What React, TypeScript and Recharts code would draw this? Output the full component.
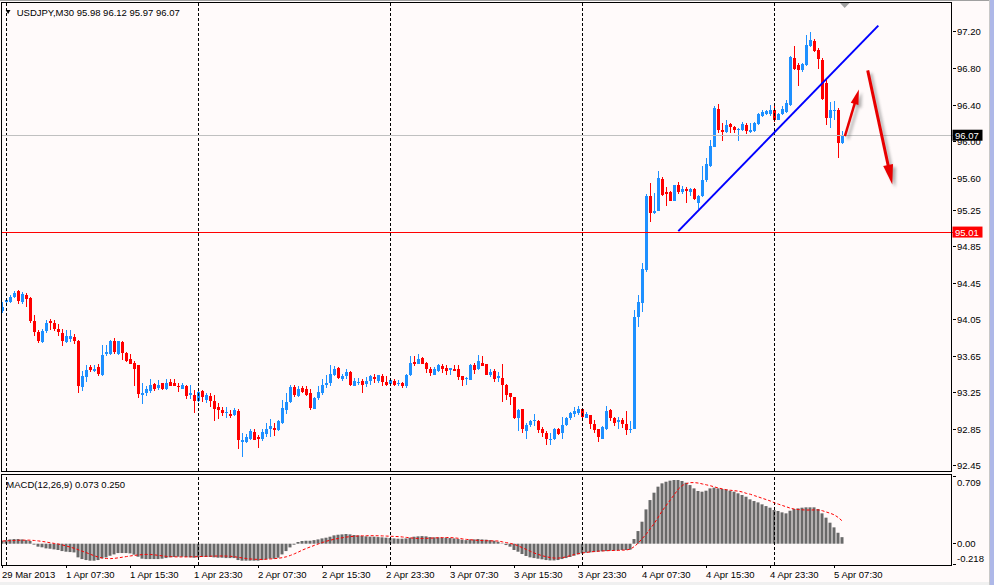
import React from "react";
import { ComposedChart, Bar, Line, XAxis, YAxis, ReferenceLine } from "recharts";

// USDJPY M30, bar 0 = 29 Mar 23:30, bar 210 = 5 Apr 08:30
const openPx = [
  94.15, 94.25, 94.25, 94.30, 94.36, 94.24, 94.32, 94.29, 94.04, 93.92,
  93.81, 93.93, 94.04, 94.02, 93.95, 93.91, 93.81, 93.84, 93.86, 93.82,
  93.31, 93.42, 93.53, 93.49, 93.53, 93.45, 93.68, 93.68, 93.82, 93.68,
  93.81, 93.69, 93.62, 93.58, 93.55, 93.23, 93.25, 93.27, 93.35, 93.30,
  93.36, 93.29, 93.37, 93.36, 93.33, 93.29, 93.32, 93.23, 93.23, 93.16,
  93.27, 93.17, 93.22, 93.16, 93.09, 93.06, 93.03, 93.02, 93.01, 93.05,
  92.71, 92.71, 92.75, 92.82, 92.77, 92.74, 92.80, 92.85, 92.87, 92.84,
  92.92, 93.06, 93.15, 93.31, 93.22, 93.30, 93.29, 93.25, 93.07, 93.19,
  93.25, 93.34, 93.36, 93.45, 93.52, 93.40, 93.43, 93.48, 93.33, 93.36,
  93.38, 93.35, 93.38, 93.42, 93.38, 93.43, 93.37, 93.35, 93.38, 93.35,
  93.36, 93.32, 93.45, 93.59, 93.57, 93.63, 93.58, 93.51, 93.45, 93.49,
  93.54, 93.52, 93.50, 93.51, 93.51, 93.43, 93.40, 93.39, 93.55, 93.51,
  93.58, 93.57, 93.45, 93.49, 93.41, 93.41, 93.34, 93.25, 93.20, 92.97,
  93.07, 92.83, 92.90, 92.94, 92.94, 92.86, 92.81, 92.74, 92.74, 92.85,
  92.81, 92.90, 92.97, 93.02, 93.03, 93.07, 92.98, 93.01, 92.91, 92.85,
  92.75, 92.86, 93.06, 92.97, 92.93, 92.95, 92.91, 92.84, 92.86, 94.08,
  94.23, 94.59, 95.40, 95.22, 95.24, 95.59, 95.45, 95.45, 95.35, 95.53,
  95.45, 95.48, 95.45, 95.48, 95.33, 95.40, 95.58, 95.73, 95.94, 96.36,
  96.13, 96.11, 96.19, 96.16, 96.13, 96.13, 96.18, 96.11, 96.12, 96.19,
  96.28, 96.30, 96.30, 96.35, 96.24, 96.30, 96.32, 96.40, 96.91, 96.84,
  96.78, 96.84, 97.05, 97.10, 97.00, 96.89, 96.64, 96.26, 96.34, 96.35,
  95.98,
];
const highPx = [
  94.24, 94.29, 94.32, 94.37, 94.38, 94.35, 94.34, 94.30, 94.10, 93.94,
  93.95, 94.05, 94.06, 94.05, 94.00, 93.95, 93.94, 93.94, 93.89, 93.83,
  93.49, 93.56, 93.56, 93.56, 93.57, 93.77, 93.77, 93.83, 93.85, 93.82,
  93.82, 93.70, 93.68, 93.60, 93.56, 93.36, 93.32, 93.40, 93.36, 93.39,
  93.36, 93.40, 93.40, 93.40, 93.36, 93.36, 93.34, 93.34, 93.28, 93.29,
  93.28, 93.25, 93.25, 93.23, 93.14, 93.10, 93.09, 93.06, 93.08, 93.07,
  92.81, 92.80, 92.86, 92.86, 92.79, 92.86, 92.92, 92.96, 92.92, 92.95,
  93.17, 93.25, 93.34, 93.34, 93.33, 93.33, 93.33, 93.29, 93.21, 93.32,
  93.40, 93.45, 93.56, 93.54, 93.53, 93.46, 93.51, 93.49, 93.41, 93.41,
  93.40, 93.42, 93.45, 93.46, 93.45, 93.46, 93.43, 93.41, 93.40, 93.39,
  93.37, 93.46, 93.65, 93.65, 93.68, 93.64, 93.59, 93.53, 93.53, 93.57,
  93.57, 93.56, 93.52, 93.56, 93.56, 93.44, 93.42, 93.57, 93.58, 93.66,
  93.65, 93.57, 93.51, 93.51, 93.48, 93.57, 93.35, 93.25, 93.21, 93.07,
  93.07, 92.92, 92.95, 93.02, 92.95, 92.88, 92.83, 92.81, 92.87, 92.87,
  92.99, 92.99, 93.04, 93.10, 93.11, 93.08, 93.04, 93.01, 92.95, 92.86,
  92.89, 93.11, 93.07, 92.99, 92.99, 92.97, 93.05, 92.94, 94.16, 94.32,
  94.67, 95.43, 95.55, 95.44, 95.68, 95.61, 95.50, 95.46, 95.53, 95.56,
  95.51, 95.50, 95.49, 95.49, 95.42, 95.73, 95.82, 96.02, 96.39, 96.41,
  96.20, 96.24, 96.20, 96.17, 96.15, 96.22, 96.20, 96.20, 96.22, 96.31,
  96.35, 96.35, 96.40, 96.39, 96.31, 96.39, 96.45, 96.94, 97.05, 96.86,
  96.86, 97.17, 97.20, 97.12, 97.02, 96.91, 96.69, 96.43, 96.44, 96.37,
  96.12,
];
const lowPx = [
  94.12, 94.23, 94.23, 94.29, 94.22, 94.22, 94.19, 94.02, 93.87, 93.80,
  93.80, 93.90, 93.94, 93.93, 93.87, 93.76, 93.80, 93.81, 93.78, 93.25,
  93.27, 93.37, 93.48, 93.48, 93.44, 93.44, 93.65, 93.66, 93.68, 93.66,
  93.61, 93.59, 93.57, 93.33, 93.19, 93.13, 93.22, 93.25, 93.27, 93.28,
  93.28, 93.28, 93.32, 93.32, 93.26, 93.29, 93.18, 93.18, 93.03, 93.15,
  93.15, 93.14, 93.09, 92.94, 92.96, 93.00, 92.98, 92.98, 93.00, 92.64,
  92.55, 92.70, 92.73, 92.73, 92.65, 92.72, 92.77, 92.77, 92.78, 92.83,
  92.91, 93.02, 93.14, 93.21, 93.20, 93.25, 93.22, 93.06, 93.07, 93.17,
  93.23, 93.30, 93.32, 93.44, 93.40, 93.38, 93.40, 93.33, 93.33, 93.34,
  93.25, 93.31, 93.34, 93.36, 93.36, 93.33, 93.33, 93.33, 93.32, 93.33,
  93.30, 93.30, 93.44, 93.54, 93.57, 93.57, 93.47, 93.44, 93.45, 93.48,
  93.47, 93.45, 93.45, 93.49, 93.39, 93.32, 93.34, 93.39, 93.46, 93.50,
  93.54, 93.45, 93.42, 93.37, 93.37, 93.15, 93.17, 93.12, 92.96, 92.83,
  92.81, 92.75, 92.88, 92.89, 92.81, 92.77, 92.68, 92.68, 92.73, 92.79,
  92.75, 92.89, 92.95, 92.99, 93.01, 92.97, 92.97, 92.86, 92.81, 92.71,
  92.75, 92.84, 92.94, 92.89, 92.86, 92.87, 92.79, 92.81, 92.85, 93.97,
  94.13, 94.57, 95.12, 95.21, 95.24, 95.40, 95.29, 95.35, 95.35, 95.43,
  95.43, 95.33, 95.41, 95.36, 95.26, 95.39, 95.56, 95.72, 95.94, 96.09,
  96.01, 96.09, 96.09, 96.09, 96.01, 96.12, 96.08, 96.09, 96.10, 96.18,
  96.27, 96.29, 96.28, 96.22, 96.24, 96.29, 96.31, 96.39, 96.78, 96.61,
  96.76, 96.83, 97.04, 96.98, 96.80, 96.46, 96.18, 96.15, 96.24, 95.82,
  95.97,
];
const closePx = [
  94.19, 94.27, 94.30, 94.34, 94.26, 94.33, 94.28, 94.04, 93.92, 93.82,
  93.93, 94.02, 94.01, 93.95, 93.92, 93.82, 93.87, 93.87, 93.82, 93.32,
  93.43, 93.50, 93.50, 93.51, 93.46, 93.67, 93.70, 93.82, 93.70, 93.82,
  93.69, 93.60, 93.57, 93.51, 93.24, 93.25, 93.29, 93.34, 93.29, 93.34,
  93.29, 93.36, 93.33, 93.33, 93.31, 93.34, 93.22, 93.25, 93.16, 93.26,
  93.21, 93.23, 93.16, 93.07, 93.06, 93.03, 93.04, 93.00, 93.06, 92.73,
  92.73, 92.77, 92.83, 92.73, 92.74, 92.82, 92.86, 92.89, 92.84, 92.94,
  93.08, 93.15, 93.31, 93.23, 93.29, 93.26, 93.23, 93.08, 93.19, 93.26,
  93.34, 93.36, 93.46, 93.51, 93.41, 93.44, 93.48, 93.34, 93.38, 93.37,
  93.34, 93.38, 93.43, 93.40, 93.45, 93.37, 93.34, 93.39, 93.34, 93.36,
  93.32, 93.45, 93.58, 93.57, 93.62, 93.57, 93.51, 93.47, 93.51, 93.56,
  93.51, 93.49, 93.52, 93.49, 93.42, 93.39, 93.41, 93.55, 93.50, 93.60,
  93.54, 93.45, 93.48, 93.40, 93.44, 93.34, 93.23, 93.20, 92.97, 93.06,
  92.85, 92.90, 92.94, 92.95, 92.84, 92.81, 92.74, 92.75, 92.86, 92.80,
  92.90, 92.97, 93.03, 93.05, 93.07, 92.99, 93.02, 92.91, 92.84, 92.77,
  92.88, 93.05, 92.98, 92.92, 92.95, 92.91, 92.84, 92.86, 94.08, 94.24,
  94.61, 95.40, 95.22, 95.24, 95.60, 95.42, 95.43, 95.35, 95.52, 95.45,
  95.48, 95.46, 95.48, 95.37, 95.40, 95.58, 95.76, 95.95, 96.37, 96.13,
  96.10, 96.18, 96.16, 96.13, 96.14, 96.19, 96.12, 96.13, 96.20, 96.30,
  96.32, 96.34, 96.35, 96.24, 96.30, 96.36, 96.42, 96.93, 96.80, 96.78,
  96.85, 97.06, 97.11, 96.99, 96.90, 96.47, 96.26, 96.35, 96.35, 95.98,
  96.07,
];

// MACD(12,26,9): main histogram and signal line
const macdMain = [
  0.033, 0.040, 0.048, 0.052, 0.052, 0.048, 0.040, 0.030, -0.010, -0.033,
  -0.040, -0.052, -0.056, -0.063, -0.070, -0.082, -0.089, -0.093, -0.097, -0.152,
  -0.171, -0.182, -0.189, -0.189, -0.182, -0.163, -0.152, -0.134, -0.119, -0.104,
  -0.104, -0.104, -0.108, -0.122, -0.145, -0.167, -0.171, -0.171, -0.171, -0.171,
  -0.167, -0.160, -0.152, -0.148, -0.145, -0.145, -0.148, -0.152, -0.156, -0.152,
  -0.148, -0.148, -0.148, -0.152, -0.156, -0.156, -0.160, -0.160, -0.160, -0.182,
  -0.189, -0.189, -0.189, -0.189, -0.189, -0.182, -0.174, -0.167, -0.167, -0.156,
  -0.119, -0.082, -0.041, -0.011, 0.019, 0.030, 0.033, 0.033, 0.040, 0.048,
  0.059, 0.067, 0.078, 0.093, 0.100, 0.104, 0.108, 0.104, 0.097, 0.093,
  0.085, 0.082, 0.078, 0.078, 0.074, 0.071, 0.067, 0.063, 0.059, 0.056,
  0.056, 0.059, 0.067, 0.078, 0.082, 0.085, 0.082, 0.074, 0.071, 0.071,
  0.067, 0.067, 0.063, 0.059, 0.052, 0.045, 0.040, 0.048, 0.048, 0.052,
  0.048, 0.045, 0.040, 0.033, 0.022, 0.004, -0.015, -0.033, -0.070, -0.089,
  -0.115, -0.137, -0.152, -0.160, -0.167, -0.174, -0.182, -0.186, -0.186, -0.182,
  -0.171, -0.160, -0.148, -0.134, -0.119, -0.108, -0.100, -0.097, -0.093, -0.089,
  -0.085, -0.082, -0.078, -0.078, -0.074, -0.070, -0.070, -0.067, 0.052, 0.141,
  0.245, 0.382, 0.486, 0.568, 0.635, 0.672, 0.690, 0.702, 0.709, 0.709,
  0.698, 0.679, 0.653, 0.616, 0.587, 0.579, 0.590, 0.616, 0.624, 0.616,
  0.609, 0.605, 0.590, 0.579, 0.561, 0.542, 0.523, 0.494, 0.475, 0.460,
  0.438, 0.419, 0.401, 0.375, 0.364, 0.349, 0.338, 0.367, 0.386, 0.393,
  0.401, 0.405, 0.405, 0.405, 0.386, 0.338, 0.290, 0.234, 0.182, 0.122,
  0.073,
];
const macdSignal = [
  0.030, 0.032, 0.034, 0.036, 0.038, 0.039, 0.040, 0.039, 0.036, 0.031,
  0.025, 0.018, 0.010, 0.003, -0.004, -0.014, -0.026, -0.039, -0.052, -0.068,
  -0.085, -0.100, -0.118, -0.135, -0.150, -0.160, -0.165, -0.166, -0.163, -0.157,
  -0.150, -0.143, -0.136, -0.130, -0.125, -0.121, -0.119, -0.120, -0.124, -0.130,
  -0.136, -0.141, -0.144, -0.146, -0.147, -0.147, -0.147, -0.146, -0.145, -0.144,
  -0.142, -0.140, -0.139, -0.138, -0.137, -0.137, -0.138, -0.140, -0.145, -0.152,
  -0.159, -0.165, -0.170, -0.173, -0.175, -0.175, -0.173, -0.170, -0.166, -0.162,
  -0.155, -0.145, -0.130, -0.112, -0.092, -0.070, -0.052, -0.035, -0.018, -0.002,
  0.014, 0.028, 0.040, 0.050, 0.059, 0.067, 0.074, 0.079, 0.083, 0.086,
  0.088, 0.089, 0.089, 0.089, 0.088, 0.087, 0.085, 0.083, 0.081, 0.079,
  0.075, 0.070, 0.065, 0.061, 0.059, 0.059, 0.060, 0.062, 0.064, 0.066,
  0.068, 0.069, 0.068, 0.065, 0.060, 0.054, 0.048, 0.044, 0.040, 0.037,
  0.035, 0.033, 0.032, 0.031, 0.030, 0.020, 0.012, 0.003, -0.008, -0.025,
  -0.045, -0.065, -0.085, -0.105, -0.120, -0.135, -0.145, -0.155, -0.160, -0.160,
  -0.155, -0.145, -0.132, -0.120, -0.110, -0.103, -0.097, -0.091, -0.087, -0.083,
  -0.080, -0.078, -0.076, -0.075, -0.074, -0.072, -0.070, -0.060, -0.030, 0.010,
  0.060, 0.110, 0.170, 0.230, 0.300, 0.370, 0.430, 0.490, 0.550, 0.610,
  0.650, 0.670, 0.680, 0.680, 0.675, 0.665, 0.655, 0.645, 0.632, 0.620,
  0.610, 0.600, 0.595, 0.590, 0.585, 0.575, 0.560, 0.550, 0.535, 0.520,
  0.505, 0.490, 0.475, 0.455, 0.440, 0.425, 0.410, 0.395, 0.385, 0.380,
  0.377, 0.375, 0.375, 0.376, 0.376, 0.367, 0.352, 0.338, 0.320, 0.290,
  0.250,
];

const timeTicks = [0, 16, 32, 48, 64, 80, 96, 112, 128, 144, 160, 176, 192, 208];
const timeLabels = [
  "29 Mar 2013", "1 Apr 07:30", "1 Apr 15:30", "1 Apr 23:30", "2 Apr 07:30",
  "2 Apr 15:30", "2 Apr 23:30", "3 Apr 07:30", "3 Apr 15:30", "3 Apr 23:30",
  "4 Apr 07:30", "4 Apr 15:30", "4 Apr 23:30", "5 Apr 07:30",
];
const priceTicks = [97.2, 96.8, 96.4, 96.0, 95.6, 95.25, 94.85, 94.45, 94.05, 93.65, 93.25, 92.85, 92.45];
const macdTicks = [0.709, 0, -0.218];
const daySeparators = [1, 49, 97, 145, 193];
const bidPrice = 96.07;
const alertPrice = 95.01;
const trendLine = [{ x: 168.95, y: 95.02 }, { x: 218.95, y: 97.27 }];
const arrowUp = [{ x: 210.6, y: 96.06 }, { x: 214.1, y: 96.57 }];
const arrowDown = [{ x: 216.3, y: 96.78 }, { x: 222.45, y: 95.53 }];

const candles = openPx.map((o, i) => ({
  idx: i,
  open: o,
  high: highPx[i],
  low: lowPx[i],
  close: closePx[i],
  range: [lowPx[i], highPx[i]],
}));
const macdRows = macdMain.map((m, i) => ({ idx: i, macd: m, signal: macdSignal[i] }));

const FONT = '"Liberation Sans", Arial, sans-serif';
const FS = 9.5;
const UP = "#1E90FF";
const DOWN = "#FF0000";
const BG = "#FFFAFA";
const X_DOMAIN: [number, number] = [-0.375, 237.625];
const PRICE_DOMAIN: [number, number] = [92.395, 97.528];
const MACD_DOMAIN: [number, number] = [-0.237, 0.776];

const Candle = (props: any) => {
  const { x, y, width, height, payload } = props;
  if (!payload || x == null || y == null) return null;
  const top = Math.min(y, y + height);
  const h = Math.abs(height);
  const { open, close, high, low } = payload;
  const color = close > open ? UP : DOWN;
  const k = high > low ? h / (high - low) : 0;
  const bodyTop = top + (high - Math.max(open, close)) * k;
  const bodyH = Math.max(1, Math.abs(close - open) * k);
  const wx = Math.floor(x + width / 2);
  return (
    <g shapeRendering="crispEdges">
      <rect x={wx} y={top} width={1} height={Math.max(1, h)} fill={color} />
      <rect x={x} y={bodyTop} width={width} height={bodyH} fill={color} />
    </g>
  );
};

const makeArrow = (id: string, head: number, half: number, thick: number) => (p: any) => {
  const { x1, y1, x2, y2 } = p;
  if ([x1, y1, x2, y2].some((v) => typeof v !== "number" || isNaN(v))) return null;
  const len = Math.hypot(x2 - x1, y2 - y1) || 1;
  const ux = (x2 - x1) / len;
  const uy = (y2 - y1) / len;
  const bx = x2 - ux * head;
  const by = y2 - uy * head;
  const nx = -uy * half;
  const ny = ux * half;
  const pts = `${x2},${y2} ${bx + nx},${by + ny} ${bx - nx},${by - ny}`;
  return (
    <g>
      <defs>
        <filter id={id} x="-50%" y="-50%" width="200%" height="200%">
          <feGaussianBlur stdDeviation="1.6" />
        </filter>
      </defs>
      <g transform="translate(3,3)" filter={`url(#${id})`} opacity={0.45}>
        <line x1={x1} y1={y1} x2={bx} y2={by} stroke="#555" strokeWidth={thick} />
        <polygon points={pts} fill="#555" />
      </g>
      <line x1={x1} y1={y1} x2={bx + ux} y2={by + uy} stroke="#E80000" strokeWidth={thick} />
      <polygon points={pts} fill="#E80000" />
    </g>
  );
};

const PriceTick = (props: any) => {
  const { x, y, payload } = props;
  const v = payload.value;
  if (v === bidPrice || v === alertPrice) {
    return (
      <g>
        <rect x={x - 0.5} y={y - 5.5} width={30} height={11} fill={v === bidPrice ? "#000" : "#FF0000"} />
        <text x={x + 2} y={y + 3.5} fill="#fff" fontFamily={FONT} fontSize={FS}>
          {v.toFixed(2)}
        </text>
      </g>
    );
  }
  return (
    <g>
      <line x1={x} x2={x + 3} y1={y} y2={y} stroke="#000" shapeRendering="crispEdges" />
      <text x={x + 4} y={y + 3.5} fill="#000" fontFamily={FONT} fontSize={FS}>
        {v.toFixed(2)}
      </text>
    </g>
  );
};

const MacdTick = (props: any) => {
  const { x, y, payload } = props;
  const v = payload.value;
  const dy = v > 0.5 ? 2.3 : v < 0 ? -4.6 : 0;
  const ty = v > 0.5 ? -3.3 : v < 0 ? 1.7 : 0;
  const label = v === 0 ? "0.00" : v.toFixed(3);
  return (
    <g>
      <line x1={x} x2={x + 3} y1={y + ty} y2={y + ty} stroke="#000" shapeRendering="crispEdges" />
      <text x={x + 4} y={y + dy + 3.5} fill="#000" fontFamily={FONT} fontSize={FS}>
        {label}
      </text>
    </g>
  );
};

const TimeTick = (props: any) => {
  const { x, y, payload } = props;
  const label = timeLabels[timeTicks.indexOf(payload.value)];
  return (
    <g>
      <line x1={x} x2={x} y1={y} y2={y + 3} stroke="#000" shapeRendering="crispEdges" />
      <text x={x - 0.5} y={y + 13} fill="#000" fontFamily={FONT} fontSize={FS} textAnchor="start">
        {label}
      </text>
    </g>
  );
};

const App = () => {
  return (
    <div style={{ position: "absolute", left: 0, top: 0, width: 994, height: 585, background: BG, overflow: "hidden" }}>
      <div style={{ position: "absolute", left: 0, top: 0 }}>
        <ComposedChart width={994} height={471} data={candles} margin={{ top: 2, right: 0, bottom: 0, left: 1 }}>
          <XAxis dataKey="idx" type="number" domain={X_DOMAIN} allowDataOverflow hide />
          <YAxis
            orientation="right"
            width={41}
            type="number"
            domain={PRICE_DOMAIN}
            allowDataOverflow
            ticks={[...priceTicks, bidPrice, alertPrice]}
            interval={0}
            tick={<PriceTick />}
            tickSize={0}
            tickMargin={0}
            axisLine={false}
            tickLine={false}
          />
          {daySeparators.map((d) => (
            <ReferenceLine key={`sep-${d}`} x={d} stroke="#000" strokeDasharray="3 2" />
          ))}
          <ReferenceLine y={bidPrice} stroke="#C0C0C0" shapeRendering="crispEdges" />
          <ReferenceLine y={alertPrice} stroke="#FF0000" shapeRendering="crispEdges" />
          <Bar dataKey="range" barSize={3} shape={<Candle />} isAnimationActive={false} />
          <ReferenceLine segment={trendLine} stroke="#0000FF" strokeWidth={2} />
          <ReferenceLine segment={arrowUp} shape={makeArrow("shUp", 15, 4, 2.5)} />
          <ReferenceLine segment={arrowDown} shape={makeArrow("shDown", 20, 5, 3)} />
        </ComposedChart>
      </div>
      <div style={{ position: "absolute", left: 0, top: 472 }}>
        <ComposedChart width={994} height={113} data={macdRows} margin={{ top: 2, right: 0, bottom: 0, left: 1 }}>
          <XAxis
            dataKey="idx"
            type="number"
            domain={X_DOMAIN}
            allowDataOverflow
            ticks={timeTicks}
            interval={0}
            tick={<TimeTick />}
            tickSize={0}
            tickMargin={0}
            axisLine={false}
            tickLine={false}
            height={20}
          />
          <YAxis
            orientation="right"
            width={41}
            type="number"
            domain={MACD_DOMAIN}
            allowDataOverflow
            ticks={macdTicks}
            interval={0}
            tick={<MacdTick />}
            tickSize={0}
            tickMargin={0}
            axisLine={false}
            tickLine={false}
          />
          {daySeparators.map((d) => (
            <ReferenceLine key={`msep-${d}`} x={d} stroke="#000" strokeDasharray="3 2" />
          ))}
          <Bar dataKey="macd" fill="#696969" barSize={3} isAnimationActive={false} />
          <Line
            dataKey="signal"
            type="linear"
            stroke="#FF0000"
            strokeWidth={1}
            strokeDasharray="3 2"
            dot={false}
            activeDot={false}
            isAnimationActive={false}
          />
        </ComposedChart>
      </div>
      <svg
        width={994}
        height={585}
        style={{ position: "absolute", left: 0, top: 0, pointerEvents: "none" }}
      >
        <line x1={0} x2={990} y1={0.5} y2={0.5} stroke="#A0A0A0" />
        <rect x={1.5} y={2.5} width={950} height={469} fill="none" stroke="#000" shapeRendering="crispEdges" />
        <rect x={1.5} y={474.5} width={950} height={91} fill="none" stroke="#000" shapeRendering="crispEdges" />
        <polygon points="5.7,10 10.5,10 8.1,14" fill="#000" />
        <text x={16.7} y={15.5} fontFamily={FONT} fontSize={FS} fill="#000">
          USDJPY,M30  95.98 96.12 95.97 96.07
        </text>
        <text x={6.3} y={487.5} fontFamily={FONT} fontSize={FS} fill="#000">
          MACD(12,26,9) 0.073 0.250
        </text>
        <polygon points="840,3 849.5,3 844.7,8" fill="#A0A0A0" />
        <rect x={0} y={582} width={994} height={3} fill="#F0F0F0" />
        <line x1={989.5} x2={989.5} y1={0} y2={585} stroke="#C8C8C8" />
        <rect x={990} y={0} width={4} height={585} fill="#AEB8E8" />
      </svg>
    </div>
  );
};

export default App;
